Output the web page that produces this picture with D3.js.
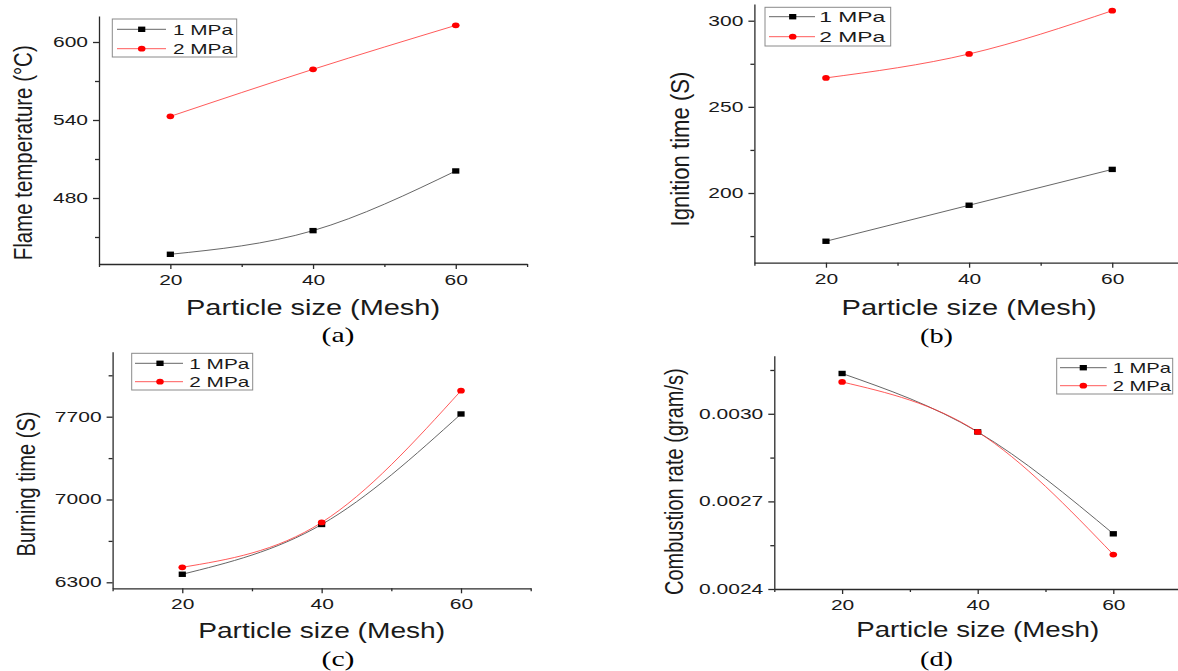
<!DOCTYPE html>
<html><head><meta charset="utf-8">
<script src="https://cdn.jsdelivr.net/npm/d3@7"></script>
<style>body{margin:0;background:#fff} svg{display:block}</style>
</head><body><svg id="c" width="1178" height="671"></svg>
<script>
// ---------------- data ----------------
const mesh = [20, 40, 60];
const seriesNames = ["1 MPa", "2 MPa"];
const flame1MPa = [436.7, 454.9, 500.8];
const flame2MPa = [542.8, 579.0, 612.8];
const ignition1MPa = [172.0, 192.9, 213.7];
const ignition2MPa = [266.8, 280.7, 305.8];
const burning1MPa = [6368, 6789, 7723];
const burning2MPa = [6427, 6806, 7920];
const rate1MPa = [0.003138, 0.002938, 0.002589];
const rate2MPa = [0.003109, 0.002938, 0.002518];
const xDomain = [10, 70];
const xTickValues = [20, 40, 60];
const xMinorValues = [10, 30, 50, 70];
const flameTicks = [480, 540, 600], flameMinor = [450, 510, 570];
const ignitionTicks = [200, 250, 300], ignitionMinor = [175, 225, 275];
const burningTicks = [6300, 7000, 7700], burningMinor = [6650, 7350, 8050];
const rateTicks = [0.0024, 0.0027, 0.0030], rateMinor = [0.00255, 0.00285, 0.00315];
const xTitle = "Particle size (Mesh)";
const yTitles = ["Flame temperature (°C)", "Ignition time (S)", "Burning time (S)", "Combustion rate (gram/s)"];
const panelLabels = ["(a)", "(b)", "(c)", "(d)"];

// ---------------- layout ----------------
const SANS = "'Liberation Sans', Arial, sans-serif";
const SERIF = "'Liberation Serif', 'Times New Roman', serif";
const K = 1.5; // horizontal stretch of tick labels

const panels = [
  { s1: flame1MPa, s2: flame2MPa, ticks: flameTicks, minor: flameMinor, fmt: d3.format("d"),
    yDomain: [429.23, 620], left: 99, right: 527.1, top: 16, bottom: 264,
    yTitle: { len: 215, cy: 152.8, bx: 31.9 }, xTitleW: 254, xTitleBase: 315,
    label: { cx: 338, by: 342 },
    legend: { x: 112.3, y: 19, w: 124.4, h: 38, rows: [29.3, 48.7], l0: 117, l1: 166, m: 141.7, tx: 173, tw: 60 } },
  { s1: ignition1MPa, s2: ignition2MPa, ticks: ignitionTicks, minor: ignitionMinor, fmt: d3.format("d"),
    yDomain: [159.55, 309.7], left: 754.4, right: 1183.8, top: 4, bottom: 262.7,
    yTitle: { len: 155, cy: 149, bx: 688.6 }, xTitleW: 255, xTitleBase: 315,
    label: { cx: 936.5, by: 343 },
    legend: { x: 765, y: 7.3, w: 125.7, h: 38.7, rows: [16.7, 36.7], l0: 769, l1: 815, m: 792.7, tx: 819.3, tw: 66 } },
  { s1: burning1MPa, s2: burning2MPa, ticks: burningTicks, minor: burningMinor, fmt: d3.format("d"),
    yDomain: [6249.3, 8249.5], left: 112.6, right: 530.7, top: 351.7, bottom: 588.3,
    yTitle: { len: 145, cy: 484, bx: 35.3 }, xTitleW: 247, xTitleBase: 638,
    label: { cx: 338, by: 666 },
    legend: { x: 131.7, y: 353.3, w: 121, h: 36.7, rows: [363.3, 381.7], l0: 135, l1: 183, m: 160, tx: 189.3, tw: 60 } },
  { s1: rate1MPa, s2: rate2MPa, ticks: rateTicks, minor: rateMinor, fmt: d3.format(".4f"),
    yDomain: [0.0024, 0.0031989], left: 774.3, right: 1181.1, top: 355.7, bottom: 589,
    yTitle: { len: 226.7, cy: 481.7, bx: 682.6 }, xTitleW: 243, xTitleBase: 637,
    label: { cx: 936.5, by: 666 },
    legend: { x: 1056.7, y: 358.3, w: 116, h: 35.7, rows: [367.7, 385.7], l0: 1060, l1: 1106.7, m: 1083.3, tx: 1112.7, tw: 58.3 } }
];

const svg = d3.select("#c");
const AX = "#2a2a2a";
const C1 = "#000000", C1line = "#555555";
const C2 = "#ff0000", C2line = "#ff3030";

function stretch(sel, k) {
  sel.each(function () {
    const w = this.getComputedTextLength();
    this.setAttribute("textLength", w * k);
    this.setAttribute("lengthAdjust", "spacingAndGlyphs");
  });
}

function marker(g, type, cx, cy) {
  if (type === 0) {
    g.append("rect").attr("x", cx - 3.6).attr("y", cy - 2.7).attr("width", 7.2).attr("height", 5.4).attr("fill", C1);
  } else {
    g.append("ellipse").attr("cx", cx).attr("cy", cy).attr("rx", 3.8).attr("ry", 2.9).attr("fill", C2);
  }
}

panels.forEach((p, pi) => {
  const g = svg.append("g");
  const x = d3.scaleLinear().domain(xDomain).range([p.left, p.right]);
  const y = d3.scaleLinear().domain(p.yDomain).range([p.bottom, p.top]);

  // axes
  const yAx = g.append("g").attr("transform", `translate(${x(xDomain[0])},0)`)
    .call(d3.axisLeft(y).tickValues(p.ticks).tickFormat(p.fmt).tickSize(6).tickSizeOuter(0).tickPadding(5));
  const yMin = g.append("g").attr("transform", `translate(${x(xDomain[0])},0)`)
    .call(d3.axisLeft(y).tickValues(p.minor).tickFormat("").tickSize(4).tickSizeOuter(0));
  yMin.select(".domain").remove();
  const xAx = g.append("g").attr("transform", `translate(0,${y(p.yDomain[0])})`)
    .call(d3.axisBottom(x).tickValues(xTickValues).tickSize(5).tickSizeOuter(0).tickPadding(6));
  const xMin = g.append("g").attr("transform", `translate(0,${y(p.yDomain[0])})`)
    .call(d3.axisBottom(x).tickValues(xMinorValues).tickFormat("").tickSize(3).tickSizeOuter(0));
  xMin.select(".domain").remove();
  [yAx, yMin, xAx, xMin].forEach(a => {
    a.selectAll(".domain, .tick line").attr("stroke", AX).attr("stroke-width", 1.3);
    a.selectAll(".tick text").attr("fill", "#1a1a1a").attr("font-size", 14).attr("font-family", SANS);
    a.attr("font-family", SANS).attr("font-size", 14);
  });
  stretch(yAx.selectAll(".tick text"), K);
  stretch(xAx.selectAll(".tick text"), K);

  // series
  const line = d3.line().x((d, i) => x(mesh[i])).y(d => y(d)).curve(d3.curveNatural);
  g.append("path").datum(p.s1).attr("d", line).attr("fill", "none").attr("stroke", C1line).attr("stroke-width", 0.9);
  g.append("path").datum(p.s2).attr("d", line).attr("fill", "none").attr("stroke", C2line).attr("stroke-width", 0.8);
  p.s1.forEach((v, i) => marker(g, 0, x(mesh[i]), y(v)));
  p.s2.forEach((v, i) => marker(g, 1, x(mesh[i]), y(v)));

  // titles
  g.append("text").attr("x", x(40)).attr("y", p.xTitleBase).attr("text-anchor", "middle")
    .attr("font-family", SANS).attr("font-size", 22).attr("fill", "#1a1a1a")
    .attr("textLength", p.xTitleW).attr("lengthAdjust", "spacingAndGlyphs").text(xTitle);
  g.append("text").attr("transform", `translate(${p.yTitle.bx},${p.yTitle.cy}) rotate(-90)`)
    .attr("text-anchor", "middle").attr("font-family", SANS).attr("font-size", 26).attr("fill", "#1a1a1a")
    .attr("textLength", p.yTitle.len).attr("lengthAdjust", "spacingAndGlyphs").text(yTitles[pi]);
  g.append("text").attr("x", p.label.cx).attr("y", p.label.by).attr("text-anchor", "middle")
    .attr("font-family", SERIF).attr("font-size", 22).attr("fill", "#000")
    .attr("textLength", 33).attr("lengthAdjust", "spacingAndGlyphs").text(panelLabels[pi]);

  // legend
  const L = p.legend;
  const lg = g.append("g");
  lg.append("rect").attr("x", L.x).attr("y", L.y).attr("width", L.w).attr("height", L.h)
    .attr("fill", "#fff").attr("stroke", "#8a8a8a").attr("stroke-width", 1);
  seriesNames.forEach((name, si) => {
    const ry = L.rows[si];
    lg.append("line").attr("x1", L.l0).attr("x2", L.l1).attr("y1", ry).attr("y2", ry)
      .attr("stroke", si === 0 ? C1line : C2line).attr("stroke-width", si === 0 ? 0.9 : 0.8);
    marker(lg, si, L.m, ry);
    lg.append("text").attr("x", L.tx).attr("y", ry + 5.2).attr("font-family", SANS).attr("font-size", 15)
      .attr("fill", "#1a1a1a").attr("textLength", L.tw).attr("lengthAdjust", "spacingAndGlyphs").text(name);
  });
});
</script></body></html>
